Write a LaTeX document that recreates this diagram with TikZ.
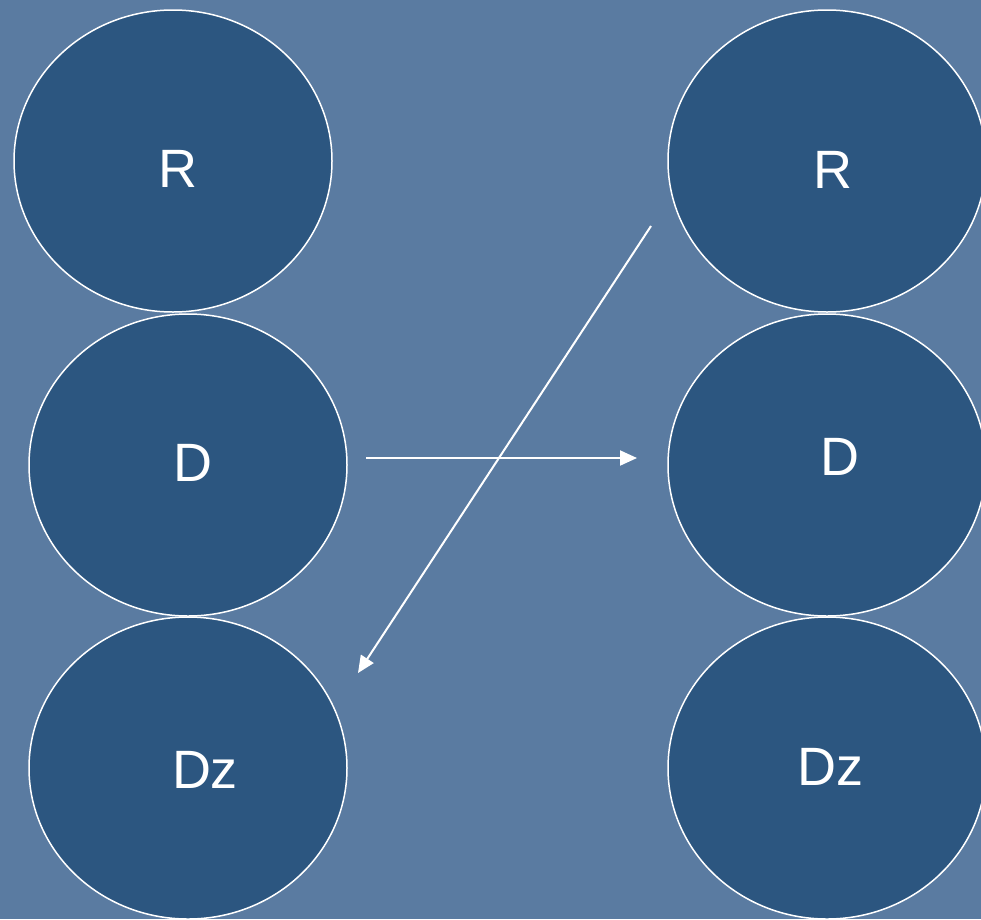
\documentclass[tikz,border=0pt]{standalone}
\usepackage{fontspec}
\setmainfont{Liberation Sans}
\usetikzlibrary{shapes.geometric,arrows.meta}
\definecolor{slide}{HTML}{5A7BA1}
\definecolor{disc}{HTML}{2C5680}

\begin{document}
\begin{tikzpicture}[x=1pt,y=-1pt,
		rond/.style={ellipse,draw=white,line width=1.5pt,fill=disc,inner sep=0pt,minimum width=318pt,minimum height=302pt},
		lettre/.style={text=white,font=\fontsize{54}{60}\selectfont,inner sep=0pt},
		fleche/.style={draw=white,line width=2pt,-{Triangle[length=17pt,width=15pt]}}]
		\useasboundingbox (0,0) rectangle (981,919);
		\clip (0,0) rectangle (981,919);
		\fill[slide] (0,0) rectangle (981,919);
		% colonne de gauche
		\node (R1) at (173,161) [rond] {};
		\node (D1) at (188,465) [rond] {};
		\node (Dz1) at (188,768) [rond] {};
		% colonne de droite
		\node (R2) at (827,161) [rond] {};
		\node (D2) at (827,465) [rond] {};
		\node (Dz2) at (827,768) [rond] {};
		% lettres
		\node (tR1) at (178,169) [lettre] {R};
		\node (tD1) at (193,463) [lettre] {D};
		\node (tDz1) at (205,770) [lettre] {Dz};
		\node (tR2) at (833,170) [lettre] {R};
		\node (tD2) at (840,457) [lettre] {D};
		\node (tDz2) at (830,767) [lettre] {Dz};
		% fleches
		\coordinate (hA) at (366,458);
		\coordinate (hB) at (637,458);
		\coordinate (dA) at (651,226);
		\coordinate (dB) at (358,673);
		\draw[fleche] (hA) -- (hB);
		\draw[fleche] (dA) -- (dB);
	\end{tikzpicture}
\end{document}
